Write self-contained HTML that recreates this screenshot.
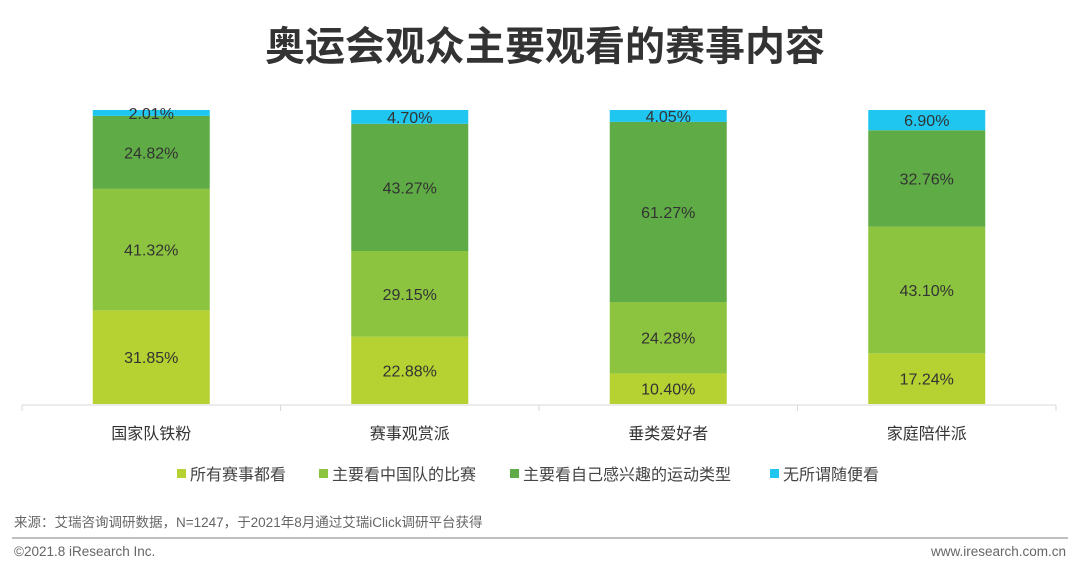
<!DOCTYPE html>
<html><head><meta charset="utf-8">
<style>
body{margin:0;width:1080px;height:570px;background:#fff;overflow:hidden;font-family:"Liberation Sans","Noto Sans CJK SC",sans-serif;}
svg{display:block}
</style></head>
<body>
<svg id="chart" width="1080" height="570" xmlns="http://www.w3.org/2000/svg">
<text x="545" y="60" text-anchor="middle" font-size="40" font-weight="bold" fill="#333" font-family="'Liberation Sans','Noto Sans CJK SC',sans-serif">奥运会观众主要观看的赛事内容</text>
<g id="bars"></g>
<line x1="22" y1="405" x2="1056" y2="405" stroke="#d9d9d9" stroke-width="1"/>
<g id="ticks"></g>
<g id="legend"></g>
<text x="14" y="527" font-size="13.5" fill="#666">来源：艾瑞咨询调研数据，N=1247，于2021年8月通过艾瑞iClick调研平台获得</text>
<line x1="12" y1="538" x2="1068" y2="538" stroke="#aaa" stroke-width="1.5"/>
<text x="14" y="556" font-size="13.5" fill="#666">©2021.8 iResearch Inc.</text>
<text x="1066" y="556" text-anchor="end" font-size="13.5" fill="#666">www.iresearch.com.cn</text>
</svg>
<script>
const categories=["国家队铁粉","赛事观赏派","垂类爱好者","家庭陪伴派"];
const seriesNames=["所有赛事都看","主要看中国队的比赛","主要看自己感兴趣的运动类型","无所谓随便看"];
const allEvents=[31.85,22.88,10.40,17.24];
const chinaTeam=[41.32,29.15,24.28,43.10];
const ownInterest=[24.82,43.27,61.27,32.76];
const whatever=[2.01,4.70,4.05,6.90];
const series=[allEvents,chinaTeam,ownInterest,whatever];
const colors=["#b5d132","#8cc43f","#5fab45","#1fc6ef"];
const NS="http://www.w3.org/2000/svg";
const x0=22,x1=1056,yBase=404,yTop=110;
const band=(x1-x0)/categories.length, barW=117;
const xc=i=>x0+band*(i+0.5);
const y=v=>yBase-(yBase-yTop)*v/100;
const bars=document.getElementById('bars');
const ticks=document.getElementById('ticks');
categories.forEach((c,i)=>{
  let cum=0;
  series.forEach((s,k)=>{
    const v=s[i];
    const r=document.createElementNS(NS,'rect');
    
    
    r.setAttribute('x',xc(i)-barW/2);r.setAttribute('width',barW);
    r.setAttribute('y',y(cum+v));r.setAttribute('height',y(cum)-y(cum+v));
    r.setAttribute('fill',colors[k]);
    bars.appendChild(r);
    const t=document.createElementNS(NS,'text');
    
    
    t.setAttribute('x',xc(i));t.setAttribute('y',(y(cum)+y(cum+v))/2+6);
    t.setAttribute('text-anchor','middle');t.setAttribute('font-size','16');t.setAttribute('fill','#333');
    t.textContent=v.toFixed(2)+'%';
    bars.appendChild(t);
    cum+=v;
  });
  const l=document.createElementNS(NS,'text');
  
  
  l.setAttribute('x',xc(i));l.setAttribute('y',439);l.setAttribute('text-anchor','middle');
  l.setAttribute('font-size','16');l.setAttribute('fill','#333');
  l.textContent=c;ticks.appendChild(l);
});
for(let i=0;i<=categories.length;i++){
  const tk=document.createElementNS(NS,'line');
  
  
  const x=x0+band*i;
  tk.setAttribute('x1',x);tk.setAttribute('x2',x);tk.setAttribute('y1',405);tk.setAttribute('y2',411);
  tk.setAttribute('stroke','#d9d9d9');ticks.appendChild(tk);
}
const legend=document.getElementById('legend');
const lx=[177,319,510,770];
seriesNames.forEach((n,k)=>{
  const g=document.createElementNS(NS,'g');
  
  
  const r=document.createElementNS(NS,'rect');
  r.setAttribute('x',lx[k]);r.setAttribute('y',469);r.setAttribute('width',9);r.setAttribute('height',9);r.setAttribute('fill',colors[k]);
  const t=document.createElementNS(NS,'text');
  t.setAttribute('x',lx[k]+13);t.setAttribute('y',480);t.setAttribute('font-size','16');t.setAttribute('fill','#444');
  t.textContent=n;
  g.appendChild(r);g.appendChild(t);legend.appendChild(g);
});
</script>
</body></html>
